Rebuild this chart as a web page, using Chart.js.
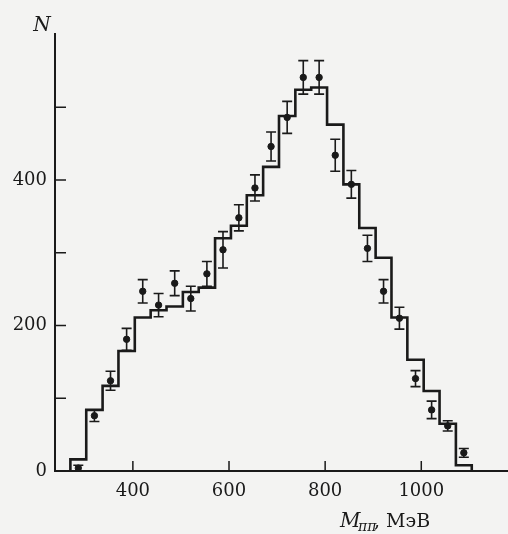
<!DOCTYPE html>
<html>
<head>
<meta charset="utf-8">
<script src="https://cdn.jsdelivr.net/npm/chart.js@4"></script>
<style>
  html, body { margin: 0; padding: 0; background: #f3f3f2; }
  #wrap { width: 508px; height: 534px; position: relative; }
</style>
</head>
<body>
<div id="wrap"><canvas id="myChart"></canvas></div>
<script>
// bin edges, MeV (25 bins)
const binEdges = [270, 303, 337, 370, 404, 437, 470, 504, 537, 571, 604, 637, 671,
                  704, 738, 771, 804, 838, 871, 905, 938, 971, 1005, 1038, 1072, 1105];
// histogram (model) heights
const histCounts = [16, 84, 117, 165, 211, 221, 226, 246, 252, 320, 337, 379, 418,
                    488, 524, 527, 476, 394, 334, 293, 211, 153, 110, 65, 8];
// measured points and their errors
const pointCounts = [4, 76, 124, 181, 247, 228, 258, 237, 271, 304, 348, 389, 446,
                     486, 541, 541, 434, 394, 306, 247, 210, 127, 84, 62, 25];
const pointErrors = [4, 8, 13, 15, 16, 16, 17, 17, 17, 25, 18, 18, 20,
                     22, 23, 23, 22, 19, 18, 16, 15, 11, 12, 7, 6];
const xTicks = [400, 600, 800, 1000];
const yTicks = [0, 100, 200, 300, 400, 500];
const yLabels = [0, 200, 400];

const ink = '#1a1a1a';

// step line through the edges
const histLine = [{ x: binEdges[0], y: 0 }];
histCounts.forEach(function (c, i) { histLine.push({ x: binEdges[i], y: c }); });
histLine.push({ x: binEdges[binEdges.length - 1], y: 0 });

const points = pointCounts.map(function (c, i) {
    return { x: (binEdges[i] + binEdges[i + 1]) / 2, y: c };
});

const axesPlugin = {
    id: 'axesPlugin',
    afterDatasetsDraw(chart) {
        const ctx = chart.ctx;
        const xs = chart.scales.x, ys = chart.scales.y;
        const x0 = xs.getPixelForValue(xs.min), y0 = ys.getPixelForValue(0);
        ctx.save();
        ctx.strokeStyle = ink;
        ctx.fillStyle = ink;

        // error bars
        const meta = chart.getDatasetMeta(1);
        ctx.lineWidth = 1.6;
        meta.data.forEach(function (el, i) {
            const yt = ys.getPixelForValue(pointCounts[i] + pointErrors[i]);
            const yb = ys.getPixelForValue(pointCounts[i] - pointErrors[i]);
            ctx.beginPath();
            ctx.moveTo(el.x, yt); ctx.lineTo(el.x, yb);
            ctx.moveTo(el.x - 5, yt); ctx.lineTo(el.x + 5, yt);
            ctx.moveTo(el.x - 5, yb); ctx.lineTo(el.x + 5, yb);
            ctx.stroke();
        });

        // axes
        ctx.lineWidth = 2;
        ctx.beginPath();
        ctx.moveTo(x0, ys.getPixelForValue(ys.max));
        ctx.lineTo(x0, y0);
        ctx.lineTo(chart.width, y0);
        ctx.stroke();

        ctx.lineWidth = 1.5;
        ctx.beginPath();
        yTicks.forEach(function (v) {
            const y = ys.getPixelForValue(v);
            ctx.moveTo(x0, y); ctx.lineTo(x0 + 11, y);
        });
        xTicks.forEach(function (v) {
            const x = xs.getPixelForValue(v);
            ctx.moveTo(x, y0); ctx.lineTo(x, y0 - 10);
        });
        ctx.stroke();

        ctx.font = '18px "DejaVu Serif"';
        ctx.textAlign = 'right';
        ctx.textBaseline = 'middle';
        yLabels.forEach(function (v) {
            ctx.fillText(String(v), x0 - 8, ys.getPixelForValue(v));
        });
        ctx.textAlign = 'center';
        xTicks.forEach(function (v) {
            ctx.fillText(String(v), xs.getPixelForValue(v), y0 + 20);
        });

        // axis titles
        ctx.textBaseline = 'alphabetic';
        ctx.font = 'italic 20px "DejaVu Serif"';
        ctx.fillText('N', 42, 31);
        ctx.textAlign = 'left';
        ctx.fillText('M', 340, 527);
        ctx.font = 'italic 14px "DejaVu Serif"';
        ctx.fillText('ππ', 358, 531);
        ctx.font = '19px "DejaVu Serif"';
        ctx.fillText(', МэВ', 374, 527);
        ctx.restore();
    }
};

new Chart(document.getElementById('myChart').getContext('2d'), {
    type: 'scatter',
    data: {
        datasets: [{
            type: 'line',
            data: histLine,
            stepped: 'before',
            borderColor: ink,
            borderWidth: 2.6,
            pointRadius: 0,
            fill: false
        }, {
            data: points,
            backgroundColor: ink,
            borderColor: ink,
            pointRadius: 3.2,
            pointStyle: 'circle'
        }]
    },
    options: {
        responsive: true,
        maintainAspectRatio: false,
        animation: false,
        layout: { padding: { left: 55, top: 33, right: 0, bottom: 63 } },
        scales: {
            x: { type: 'linear', min: 238, max: 1170, display: false },
            y: { min: 0, max: 602, display: false }
        },
        plugins: { legend: { display: false }, tooltip: { enabled: false } }
    },
    plugins: [axesPlugin]
});
</script>
</body>
</html>
